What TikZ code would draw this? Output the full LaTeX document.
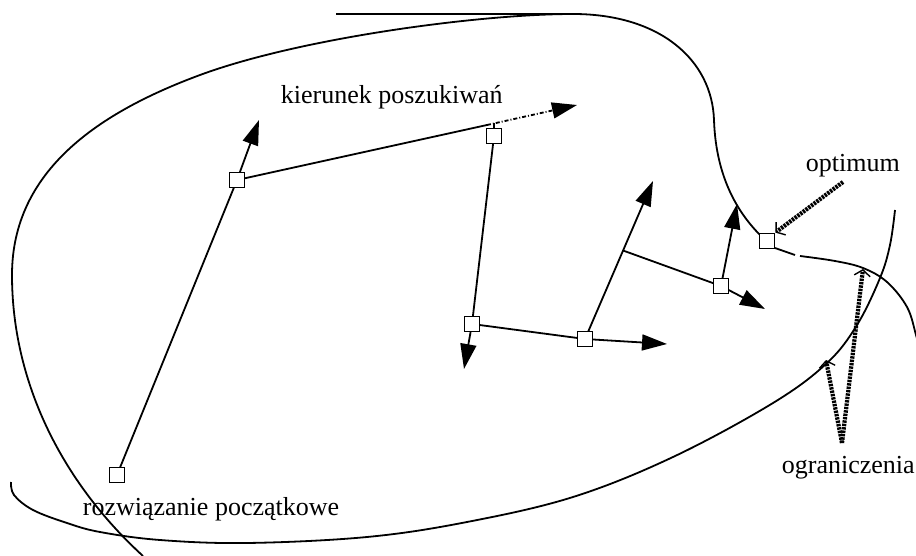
\documentclass[tikz,border=0pt]{standalone}
\usepackage{fontspec}
\setmainfont{Liberation Serif}
\usetikzlibrary{arrows.meta,calc}
\begin{document}
\begin{tikzpicture}[x=1pt,y=-1pt, line width=1.8pt,
  box/.style={draw, fill=white, rectangle, minimum size=15pt, inner sep=0pt, line width=1.8pt},
  arr/.style={-{Triangle[length=25pt,width=16pt]}},
  dotline/.style={line width=4.2pt, dash pattern=on 2.4pt off 1pt, -{Straight Barb[length=6pt,width=16pt,line width=1.4pt]}},
  lbl/.style={font=\fontsize{26}{31}\selectfont, inner sep=0pt},
  dashdot/.style={dash pattern=on 4pt off 2pt on 1pt off 2pt}]
\useasboundingbox (0,0) rectangle (916,556);
\clip (0,0) rectangle (916,556);

% top straight line
\coordinate (h1) at (336,14);
\coordinate (h2) at (577,14);
\draw (h1) -- (h2);

% big feasible-region curve
\draw (143,556) .. controls (60,480) and (12,380) .. (12,275)
  .. controls (12,170) and (100,112) .. (200,75)
  .. controls (300,38) and (480,14) .. (573,14)
  .. controls (660,14) and (712,60) .. (714,120)
  .. controls (716,180) and (740,215) .. (761,236);

% constraint curve
\draw plot[smooth, tension=0.6] coordinates {(11,482) (14,495) (33,510) (67,523) (100,532) (160,540) (247,543) (367,537) (467,522) (573,497) (673,457) (773,403) (827,363) (857,325) (880,278) (890,245) (895,210)};

% curve leaving the optimum
\draw (775,248) -- (795,255);
\draw plot[smooth, tension=0.6] coordinates {(800,256) (835,261) (863,268) (887,282) (907,307) (916,335) (922,360)};

% nodes (squares)
\coordinate (s0c) at (117,475);
\coordinate (sAc) at (237,180);
\coordinate (sBc) at (494,136);
\coordinate (sCc) at (472,324);
\coordinate (sDc) at (585,339);
\coordinate (sEc) at (721,286);
\coordinate (sOc) at (767,241);

% tips
\coordinate (tA) at (259,120);
\coordinate (kMid) at (487,125);
\coordinate (tK) at (577,105);
\coordinate (tC) at (464,369);
\coordinate (tD) at (667,344);
\coordinate (tD2) at (653,181);
\coordinate (J) at ($(sDc)!0.56!(tD2)$);
\coordinate (tE) at (765,309);
\coordinate (tE2) at (737,204);
\coordinate (bT) at (494,123);

% path lines
\draw (s0c) -- (sAc);
\draw[arr] (sAc) -- (tA);
\draw (sAc) -- (kMid);
\draw[arr, dashdot] (kMid) -- (tK);
\draw (bT) -- (sBc);
\draw (sBc) -- (sCc);
\draw[arr] (sCc) -- (tC);
\draw (sCc) -- (sDc);
\draw[arr] (sDc) -- (tD);
\draw[arr] (sDc) -- (tD2);
\draw (J) -- (sEc);
\draw[arr] (sEc) -- (tE);
\draw[arr] (sEc) -- (tE2);

\node[box] (s0) at (s0c) {};
\node[box] (sA) at (sAc) {};
\node[box] (sB) at (sBc) {};
\node[box] (sC) at (sCc) {};
\node[box] (sD) at (sDc) {};
\node[box] (sE) at (sEc) {};
\node[box] (sO) at (sOc) {};

% labels
\node[lbl, anchor=base west] (tk) at (280,104) {kierunek poszukiwań};
\node[lbl, anchor=base west] (to) at (805,172) {optimum};
\node[lbl, anchor=base west] (tg) at (781,473) {ograniczenia};
\node[lbl, anchor=base west] (tr) at (82,515) {rozwiązanie początkowe};

% dotted pointers
\coordinate (oS) at (843,182);
\draw[dotline] (oS) -- (sO.north east);
\coordinate (gS) at (842,443);
\coordinate (g1) at (826,360);
\coordinate (g2) at (863,269);
\draw[dotline] (gS) -- (g1);
\draw[dotline] (gS) -- (g2);
\end{tikzpicture}
\end{document}
